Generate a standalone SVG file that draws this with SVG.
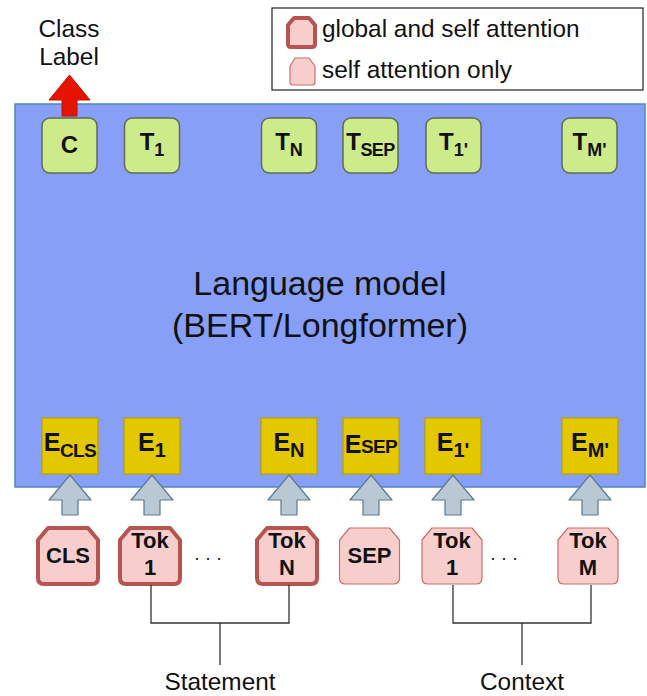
<svg xmlns="http://www.w3.org/2000/svg" xmlns:xlink="http://www.w3.org/1999/xlink" width="647" height="696" viewBox="0 0 647 696">
  <style>
    text { font-family: "Liberation Sans", Arial, Helvetica, sans-serif; fill: #111; }
    .lbl { font-size: 24.4px; }
    .big { font-size: 34px; text-anchor: middle; }
    .tbox { fill: #cdeb8b; stroke: #5f6b55; stroke-width: 1.5; }
    .ebox { fill: #e3c800; stroke: #b8a000; stroke-width: 1.2; }
    .ttxt { font-size: 24px; font-weight: bold; text-anchor: middle; }
    .etxt { font-size: 25px; font-weight: bold; text-anchor: middle; }
    .tok-g { fill: #f8cecc; stroke: #b85450; stroke-width: 4; stroke-linejoin: round; }
    .tok-s { fill: #f8cecc; stroke: #cc6f6b; stroke-width: 1.2; stroke-linejoin: round; }
    .toktxt { font-size: 22px; font-weight: bold; text-anchor: middle; }
    .up { fill: #bac8d3; stroke: #5b7a93; stroke-width: 1.2; stroke-linejoin: round; }
    .wire { fill: none; stroke: #333; stroke-width: 1.3; }
    .dots { font-size: 18px; letter-spacing: 6px; text-anchor: middle; }
  </style>
  <defs>
    <!-- token shape: chamfered top, rounded bottom -->
    <path id="tok" d="M10,0 H50 L60,12 V50 Q60,56 54,56 H6 Q0,56 0,50 V12 Z"/>
    <!-- block arrow pointing up, tip at origin -->
    <path id="upArrow" d="M0,0 L21,25 H8 V40 H-8 V25 H-21 Z"/>
  </defs>

  <!-- legend -->
  <g id="legend">
    <rect x="272" y="8" width="371" height="82" fill="#fff" stroke="#222" stroke-width="1.2"/>
    <path d="M294,18 H309 L315,25 V44 Q315,47 312,47 H291 Q288,47 288,44 V25 Z" class="tok-g" stroke-width="3.5"/>
    <text x="322" y="37" class="lbl">global and self attention</text>
    <path d="M295,58 H309 L315,66 V82 Q315,85 312,85 H293 Q290,85 290,82 V66 Z" class="tok-s"/>
    <text x="322" y="78" class="lbl">self attention only</text>
  </g>

  <!-- language model block -->
  <g id="model">
    <rect x="15" y="104" width="630" height="383" fill="#879ff7" stroke="#4f87c0" stroke-width="1.5"/>
    <text x="320" y="295" class="big">Language model</text>
    <text x="320" y="337" class="big">(BERT/Longformer)</text>
  </g>

  <!-- output token representations -->
  <g id="out-C"><rect x="42" y="118" width="55" height="55" rx="8" class="tbox"/><text x="69.5" y="153" class="ttxt">C</text></g>
  <g id="out-T1"><rect x="124.5" y="118" width="55" height="55" rx="8" class="tbox"/><text x="152" y="150" class="ttxt">T<tspan dy="6" font-size="18">1</tspan></text></g>
  <g id="out-TN"><rect x="261.5" y="118" width="55" height="55" rx="8" class="tbox"/><text x="289" y="150" class="ttxt">T<tspan dy="6" font-size="18">N</tspan></text></g>
  <g id="out-TSEP"><rect x="343" y="118" width="55" height="55" rx="8" class="tbox"/><text x="370.5" y="150" class="ttxt" letter-spacing="-0.6">T<tspan dy="6" font-size="18">SEP</tspan></text></g>
  <g id="out-T1p"><rect x="426" y="118" width="55" height="55" rx="8" class="tbox"/><text x="453.5" y="150" class="ttxt">T<tspan dy="6" font-size="18">1'</tspan></text></g>
  <g id="out-TMp"><rect x="562" y="118" width="55" height="55" rx="8" class="tbox"/><text x="589.5" y="150" class="ttxt">T<tspan dy="6" font-size="18">M'</tspan></text></g>

  <!-- input embeddings -->
  <g id="emb-CLS"><rect x="42" y="418" width="56" height="56" class="ebox"/><text x="70" y="451" class="etxt" letter-spacing="-0.6">E<tspan dy="6" font-size="19">CLS</tspan></text></g>
  <g id="emb-1"><rect x="124" y="418" width="56" height="56" class="ebox"/><text x="152" y="451" class="etxt">E<tspan dy="6" font-size="20">1</tspan></text></g>
  <g id="emb-N"><rect x="261" y="418" width="56" height="56" class="ebox"/><text x="289" y="451" class="etxt">E<tspan dy="6" font-size="20">N</tspan></text></g>
  <g id="emb-SEP"><rect x="343" y="418" width="56" height="56" class="ebox"/><text x="371" y="453" class="etxt" letter-spacing="-0.6">E<tspan font-size="19">SEP</tspan></text></g>
  <g id="emb-1p"><rect x="425" y="418" width="56" height="56" class="ebox"/><text x="453" y="451" class="etxt">E<tspan dy="6" font-size="20">1'</tspan></text></g>
  <g id="emb-Mp"><rect x="562" y="418" width="56" height="56" class="ebox"/><text x="590" y="451" class="etxt">E<tspan dy="6" font-size="20">M'</tspan></text></g>

  <!-- input tokens -->
  <g id="tok-CLS"><use xlink:href="#tok" href="#tok" x="38" y="528" class="tok-g"/><text x="68" y="563" class="toktxt">CLS</text></g>
  <g id="tok-1"><use xlink:href="#tok" href="#tok" x="120" y="528" class="tok-g"/><text x="150" y="548" class="toktxt">Tok</text><text x="150" y="575" class="toktxt">1</text></g>
  <g id="tok-N"><use xlink:href="#tok" href="#tok" x="257" y="528" class="tok-g"/><text x="287" y="548" class="toktxt">Tok</text><text x="287" y="575" class="toktxt">N</text></g>
  <g id="tok-SEP"><use xlink:href="#tok" href="#tok" x="339.5" y="528" class="tok-s"/><text x="369.5" y="563" class="toktxt">SEP</text></g>
  <g id="tok-1p"><use xlink:href="#tok" href="#tok" x="422" y="528" class="tok-s"/><text x="452" y="548" class="toktxt">Tok</text><text x="452" y="575" class="toktxt">1</text></g>
  <g id="tok-M"><use xlink:href="#tok" href="#tok" x="558" y="528" class="tok-s"/><text x="588" y="548" class="toktxt">Tok</text><text x="588" y="575" class="toktxt">M</text></g>

  <text x="211" y="560" class="dots">...</text>
  <text x="507" y="560" class="dots">...</text>

  <!-- class label output -->
  <g id="class-label">
    <text x="69" y="37" class="lbl" text-anchor="middle">Class</text>
    <text x="69" y="65" class="lbl" text-anchor="middle">Label</text>
  </g>

  <!-- connectors -->
  <g id="connectors">
    <path d="M69.5,75 L90,100 H77 V116 H62 V100 H49 Z" fill="#e51400" stroke="#c01000" stroke-width="1"/>
    <use xlink:href="#upArrow" href="#upArrow" x="70" y="475" class="up"/>
    <use xlink:href="#upArrow" href="#upArrow" x="152" y="475" class="up"/>
    <use xlink:href="#upArrow" href="#upArrow" x="289" y="475" class="up"/>
    <use xlink:href="#upArrow" href="#upArrow" x="371" y="475" class="up"/>
    <use xlink:href="#upArrow" href="#upArrow" x="453" y="475" class="up"/>
    <use xlink:href="#upArrow" href="#upArrow" x="590" y="475" class="up"/>
    <path class="wire" d="M151,585 V623 H289 V585 M220,623 V665"/>
    <path class="wire" d="M453,585 V623 H591 V585 M522,623 V665"/>
  </g>

  <text x="220" y="690" class="lbl" text-anchor="middle">Statement</text>
  <text x="522" y="690" class="lbl" text-anchor="middle">Context</text>
</svg>
